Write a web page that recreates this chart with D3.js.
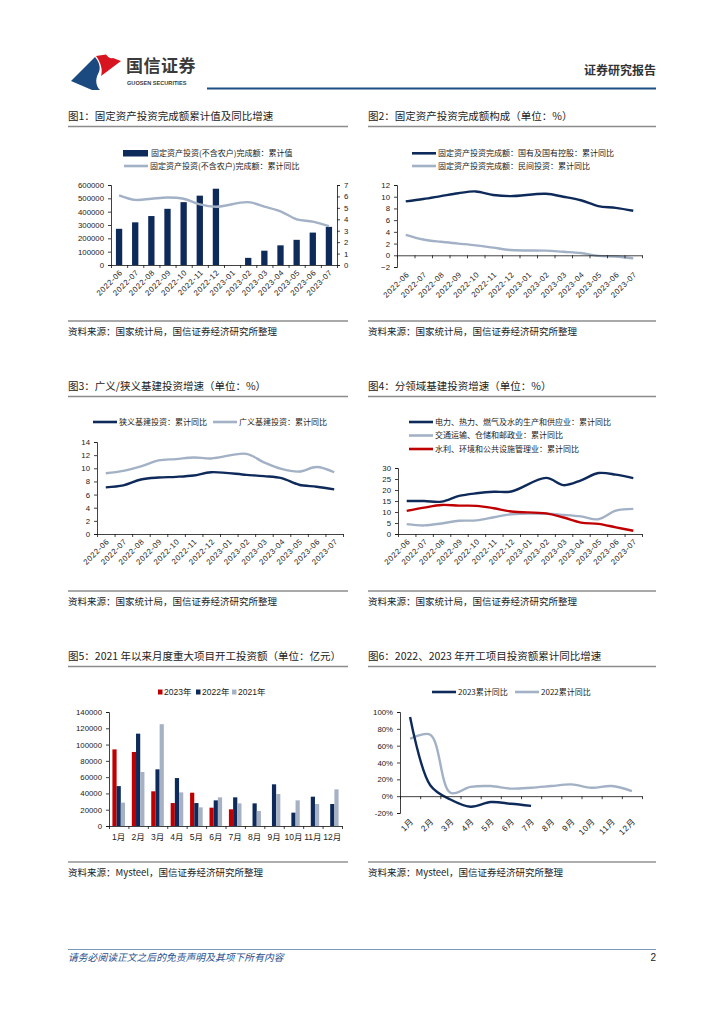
<!DOCTYPE html>
<html><head><meta charset="utf-8">
<script src="https://cdn.jsdelivr.net/npm/d3@7"></script>
<style>
body{margin:0;background:#fff}
svg{display:block}
text{font-family:"Liberation Sans","Noto Sans CJK SC",sans-serif;fill:#222}
.cjk{font-family:"Noto Sans CJK SC","Liberation Sans",sans-serif}
</style>
</head><body><svg id="c" width="724" height="1024"></svg>
<script>
// ---------- DATA ----------
const months = ["2022-06","2022-07","2022-08","2022-09","2022-10","2022-11","2022-12","2023-01","2023-02","2023-03","2023-04","2023-05","2023-06","2023-07"];
// Chart 1
const faiCum = [271430,320007,367109,421412,471459,520043,572138,null,53577,107282,147482,188815,243113,285898];
const faiYoy = [6.1,5.7,5.8,5.9,5.8,5.3,5.1,null,5.5,5.1,4.7,4.0,3.8,3.4];
const c1LeftTicks = [0,100000,200000,300000,400000,500000,600000];
const c1RightTicks = [0,1,2,3,4,5,6,7];
// Chart 2
const soeYoy = [9.2,9.6,10.1,10.6,10.9,10.3,10.1,null,10.5,10.0,9.4,8.4,8.1,7.6];
const privYoy = [3.5,2.7,2.3,2.0,1.7,1.3,0.9,null,0.8,0.6,0.4,-0.1,-0.2,-0.5];
const c2Ticks = [-2,0,2,4,6,8,10,12];
// Chart 3
const narrowInfra = [7.1,7.4,8.3,8.6,8.7,8.9,9.4,null,9.0,8.8,8.5,7.5,7.2,6.8];
const broadInfra = [9.25,9.6,10.3,11.2,11.4,11.65,11.5,null,12.2,10.9,9.9,9.5,10.2,9.4];
const c3Ticks = [0,2,4,6,8,10,12,14];
// Chart 4
const powerYoy = [15.0,15.0,14.7,17.3,18.5,19.2,19.3,null,25.5,22.2,24.4,27.7,27.0,25.4];
const transportYoy = [4.5,3.9,4.8,6.0,6.2,7.6,9.0,null,9.2,8.7,8.0,6.7,10.6,11.4];
const waterYoy = [10.5,12.0,13.2,12.9,12.8,11.7,10.2,null,9.4,7.5,5.2,4.6,3.0,1.5];
const c4Ticks = [0,5,10,15,20,25,30];
// Chart 5
const monthsCN = ["1月","2月","3月","4月","5月","6月","7月","8月","9月","10月","11月","12月"];
const proj2023 = [94100,90900,42600,28200,40900,22500,20500,null,null,null,null,null];
const proj2022 = [49000,113400,69600,58900,28200,31500,35200,27800,51200,16400,36000,27000];
const proj2021 = [28700,66300,125000,41300,22900,35200,27800,18400,39300,31500,27000,45000];
const c5Ticks = [0,20000,40000,60000,80000,100000,120000,140000];
// Chart 6
const cum2023 = [94,13,-4,-12.5,-7,-9,-11.5,null,null,null,null,null];
const cum2022 = [68,73,4,11,12,9,10,12,14,10,12,6];
const c6Ticks = [-20,0,20,40,60,80,100];

// ---------- STYLE ----------
const DARK = "#0e2a5a", LIGHT = "#a2b1c5", RED = "#c00000";
const svg = d3.select("#c");

// ---------- HEADER ----------
svg.append("path").attr("d","M71,81 L95,57 C100,63 101,69 98,74 C95,80 96,86 100,90 L92,90 Z").attr("fill","#1b4a80");
svg.append("path").attr("d","M96,56 L106,54.5 Q109,59 113,58 L121,61 L101,76 C103,70 101,63 96,56 Z").attr("fill","#d7141f");
svg.append("text").attr("class","cjk").attr("x",126).attr("y",72).attr("font-size",17).attr("font-weight","bold").style("fill","#3a3a3a").attr("letter-spacing",0.5).text("国信证券");
svg.append("text").attr("x",127).attr("y",85).attr("font-size",5.6).attr("font-weight","bold").style("fill","#3a3a3a").text("GUOSEN SECURITIES");
svg.append("line").attr("x1",207).attr("x2",656).attr("y1",88.5).attr("y2",88.5).attr("stroke","#1f4f82").attr("stroke-width",2.2);
svg.append("text").attr("class","cjk").attr("x",656).attr("y",75).attr("text-anchor","end").attr("font-size",12).attr("font-weight","bold").style("fill","#333").text("证券研究报告");

// ---------- FOOTER ----------
svg.append("line").attr("x1",68).attr("x2",656).attr("y1",949.5).attr("y2",949.5).attr("stroke","#5b7fa8").attr("stroke-width",0.8);
svg.append("text").attr("class","cjk").attr("x",68).attr("y",961).attr("font-size",9.8).attr("font-style","italic").style("fill","#1f4f8f").text("请务必阅读正文之后的免责声明及其项下所有内容");
svg.append("text").attr("x",656).attr("y",961).attr("text-anchor","end").attr("font-size",10).style("fill","#222").text("2");

// ---------- HELPERS ----------
function title(x, x2, y, txt){
  svg.append("text").attr("class","cjk").attr("x",x).attr("y",y+4).attr("font-size",10.5).style("fill","#222").text(txt);
  svg.append("line").attr("x1",x).attr("x2",x2).attr("y1",y+10.5).attr("y2",y+10.5).attr("stroke","#8c8c8c").attr("stroke-width",1.6);
}
function source(x, x2, y, txt, dark){
  svg.append("line").attr("x1",x).attr("x2",x2).attr("y1",y).attr("y2",y).attr("stroke",dark?"#333":"#8c8c8c").attr("stroke-width",dark?0.8:1.6);
  svg.append("text").attr("class","cjk").attr("x",x).attr("y",y+14).attr("font-size",9.5).style("fill","#222").text(txt);
}
function yAxis(scale, x, ticks, fmt, side){
  const ax = (side==="right"? d3.axisRight(scale):d3.axisLeft(scale)).tickValues(ticks).tickSize(3).tickPadding(4).tickFormat(fmt);
  const g = svg.append("g").attr("transform",`translate(${x},0)`).call(ax);
  g.select(".domain").attr("stroke","#111").attr("stroke-width",0.8);
  g.selectAll(".tick line").attr("stroke","#111").attr("stroke-width",0.8);
  g.selectAll(".tick text").attr("font-size",7.8).attr("font-family","Liberation Sans").style("fill","#222");
  return g;
}
function xAxisBand(xs, y){
  const r = xs.range();
  const bounds = xs.domain().map(d=>xs(d)).concat([r[1]]);
  const lin = d3.scaleLinear().domain([r[0],r[1]]).range([r[0],r[1]]);
  const ax = d3.axisBottom(lin).tickValues(bounds).tickSize(3).tickFormat("").tickSizeOuter(0);
  const g = svg.append("g").attr("transform",`translate(0,${y})`).call(ax);
  g.select(".domain").attr("stroke","#111").attr("stroke-width",0.8);
  g.selectAll(".tick line").attr("stroke","#111").attr("stroke-width",0.8);
}
function rotLabels(xs, y, labels, fs){
  svg.append("g").selectAll("text").data(labels).join("text")
    .attr("transform",d=>`translate(${xs(d)+xs.bandwidth()/2+2},${y}) rotate(-45)`)
    .attr("text-anchor","end").attr("dy","0.35em")
    .attr("font-size",fs||7.8).attr("letter-spacing",0.6).style("fill","#222").text(d=>d);
}
function drawLine(xs, ys, cats, vals, color, w){
  const pts = cats.map((c,i)=>[c,vals[i]]).filter(d=>d[1]!=null);
  const line = d3.line().x(d=>xs(d[0])+xs.bandwidth()/2).y(d=>ys(d[1])).curve(d3.curveCatmullRom.alpha(0.5));
  svg.append("path").attr("d",line(pts)).attr("fill","none").attr("stroke",color).attr("stroke-width",w||2.4).attr("stroke-linejoin","round");
}
function legLine(x, y, color, txt, fs){
  svg.append("line").attr("x1",x).attr("x2",x+24).attr("y1",y).attr("y2",y).attr("stroke",color).attr("stroke-width",2.6);
  svg.append("text").attr("class","cjk").attr("x",x+26).attr("y",y).attr("dy","0.35em").attr("font-size",fs||8).style("fill","#222").text(txt);
}

// ---------- CHART 1 ----------
title(68,348,116,"图1：固定资产投资完成额累计值及同比增速");
{
  const xs = d3.scaleBand().domain(months).range([111,337]);
  const yl = d3.scaleLinear().domain([0,600000]).range([265,185]);
  const yr = d3.scaleLinear().domain([0,7]).range([265,185]);
  svg.append("rect").attr("x",123).attr("y",150).attr("width",25).attr("height",6.5).attr("fill",DARK);
  svg.append("text").attr("class","cjk").attr("x",151).attr("y",153.3).attr("dy","0.35em").attr("font-size",8).text("固定资产投资(不含农户)完成额：累计值");
  legLine(124,166,LIGHT,"固定资产投资(不含农户)完成额：累计同比");
  const bw = 6.3;
  svg.append("g").selectAll("rect").data(months.map((m,i)=>[m,faiCum[i]]).filter(d=>d[1]!=null)).join("rect")
    .attr("x",d=>xs(d[0])+xs.bandwidth()/2-bw/2).attr("width",bw)
    .attr("y",d=>yl(d[1])).attr("height",d=>yl(0)-yl(d[1])).attr("fill",DARK);
  drawLine(xs, yr, months, faiYoy, LIGHT, 2.4);
  yAxis(yl,111,c1LeftTicks,d3.format("d"));
  yAxis(yr,337,c1RightTicks,d3.format("d"),"right");
  xAxisBand(xs,265);
  rotLabels(xs,271,months);
}
source(68,348,321,"资料来源：国家统计局，国信证券经济研究所整理");

// ---------- CHART 2 ----------
title(368,656,116,"图2：固定资产投资完成额构成（单位：%）");
{
  const xs = d3.scaleBand().domain(months).range([397,642]);
  const ys = d3.scaleLinear().domain([-2,12]).range([267,185]);
  legLine(412,153.3,DARK,"固定资产投资完成额：国有及国有控股：累计同比");
  legLine(412,166,LIGHT,"固定资产投资完成额：民间投资：累计同比");
  drawLine(xs, ys, months, soeYoy, DARK);
  drawLine(xs, ys, months, privYoy, LIGHT);
  yAxis(ys,397,c2Ticks,d3.format("d"));
  xAxisBand(xs,ys(0));
  rotLabels(xs,273,months);
}
source(368,656,321,"资料来源：国家统计局，国信证券经济研究所整理");

// ---------- CHART 3 ----------
title(68,348,386,"图3：广义/狭义基建投资增速（单位：%）");
{
  const xs = d3.scaleBand().domain(months).range([97,343]);
  const ys = d3.scaleLinear().domain([0,14]).range([534,442]);
  legLine(93,422,DARK,"狭义基建投资：累计同比");
  legLine(213,422,LIGHT,"广义基建投资：累计同比");
  drawLine(xs, ys, months, broadInfra, LIGHT);
  drawLine(xs, ys, months, narrowInfra, DARK);
  yAxis(ys,97,c3Ticks,d3.format("d"));
  xAxisBand(xs,534);
  rotLabels(xs,540,months);
}
source(68,348,591,"资料来源：国家统计局，国信证券经济研究所整理");

// ---------- CHART 4 ----------
title(368,656,386,"图4：分领域基建投资增速（单位：%）");
{
  const xs = d3.scaleBand().domain(months).range([398,642]);
  const ys = d3.scaleLinear().domain([0,30]).range([534,468]);
  legLine(409,422,DARK,"电力、热力、燃气及水的生产和供应业：累计同比");
  legLine(409,435.5,LIGHT,"交通运输、仓储和邮政业：累计同比");
  legLine(409,449,RED,"水利、环境和公共设施管理业：累计同比");
  drawLine(xs, ys, months, transportYoy, LIGHT);
  drawLine(xs, ys, months, waterYoy, RED);
  drawLine(xs, ys, months, powerYoy, DARK);
  yAxis(ys,398,c4Ticks,d3.format("d"));
  xAxisBand(xs,534);
  rotLabels(xs,540,months);
}
source(368,656,591,"资料来源：国家统计局，国信证券经济研究所整理");

// ---------- CHART 5 ----------
title(68,348,656,"图5：2021 年以来月度重大项目开工投资额（单位：亿元）");
{
  const xs = d3.scaleBand().domain(monthsCN).range([109,342]);
  const ys = d3.scaleLinear().domain([0,140000]).range([826,712]);
  const series = [["2023年",proj2023,RED],["2022年",proj2022,DARK],["2021年",proj2021,"#a6b2c3"]];
  const inner = d3.scaleBand().domain(series.map(s=>s[0])).range([0,12.6]);
  const legX = [158,196,232];
  series.forEach((s,k)=>{
    svg.append("rect").attr("x",legX[k]).attr("y",689.5).attr("width",4.5).attr("height",5).attr("fill",s[2]);
    svg.append("text").attr("x",legX[k]+6).attr("y",692).attr("dy","0.35em").attr("font-size",8.5).style("fill","#222").text(s[0]);
    svg.append("g").selectAll("rect").data(monthsCN.map((m,i)=>[m,s[1][i]]).filter(d=>d[1]!=null)).join("rect")
      .attr("x",d=>xs(d[0])+xs.bandwidth()/2-6.3+inner(s[0])).attr("width",inner.bandwidth())
      .attr("y",d=>ys(d[1])).attr("height",d=>ys(0)-ys(d[1])).attr("fill",s[2]);
  });
  yAxis(ys,109,c5Ticks,d3.format("d"));
  xAxisBand(xs,826);
  svg.append("g").selectAll("text").data(monthsCN).join("text")
    .attr("x",d=>xs(d)+xs.bandwidth()/2).attr("y",837).attr("dy","0.35em").attr("text-anchor","middle")
    .attr("font-size",8.5).style("fill","#222").text(d=>d);
}
source(68,348,862,"资料来源：Mysteel，国信证券经济研究所整理",true);

// ---------- CHART 6 ----------
title(368,656,656,"图6：2022、2023 年开工项目投资额累计同比增速");
{
  const xs = d3.scaleBand().domain(monthsCN).range([400,642]);
  const ys = d3.scaleLinear().domain([-20,100]).range([813,712]);
  legLine(432,692,DARK,"2023累计同比");
  legLine(515,692,LIGHT,"2022累计同比");
  drawLine(xs, ys, monthsCN, cum2022, LIGHT);
  drawLine(xs, ys, monthsCN, cum2023, DARK);
  yAxis(ys,400,c6Ticks,d=>d+"%");
  xAxisBand(xs,ys(0));
  rotLabels(xs,820,monthsCN,8.3);
}
source(368,656,862,"资料来源：Mysteel，国信证券经济研究所整理",true);
</script></body></html>
